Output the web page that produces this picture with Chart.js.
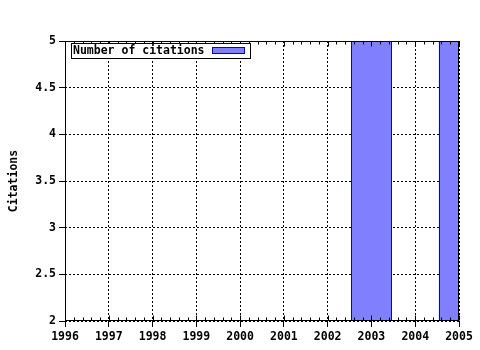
<!DOCTYPE html>
<html>
<head>
<meta charset="utf-8">
<script src="https://cdn.jsdelivr.net/npm/chart.js@4"></script>
<style>
  html, body { margin: 0; padding: 0; background: #fff; }
  #wrap { width: 480px; height: 350px; }
</style>
</head>
<body>
<div id="wrap"><canvas id="citationChart" width="480" height="350"></canvas></div>
<script>
// ---- data ----
var years = [2003, 2005];
var citations = [5, 5];
var seriesLabel = "Number of citations";
var yTitle = "Citations";
var xMin = 1996, xMax = 2005;
var yMin = 2, yMax = 5;

var FONT = "'DejaVu Sans Mono', 'Liberation Mono', monospace";
var BAR_FILL = "#8080ff";
var BAR_EDGE = "#0a0a9a";

/* crisp bar edges, frame, minor ticks and the boxed legend */
var framePlugin = {
    id: "frame",
    afterDatasetsDraw: function (chart) {
        var ctx = chart.ctx;
        var a = chart.chartArea;
        var xs = chart.scales.x;
        var l = Math.round(a.left) + 0.5, r = Math.round(a.right) - 0.5;
        var t = Math.round(a.top) + 0.5, b = Math.round(a.bottom) - 0.5;
        ctx.save();
        // bar side edges, taken from the bar elements
        ctx.beginPath();
        ctx.rect(a.left, a.top, a.right - a.left, a.bottom - a.top);
        ctx.clip();
        ctx.strokeStyle = BAR_EDGE;
        ctx.lineWidth = 1;
        ctx.beginPath();
        chart.getDatasetMeta(0).data.forEach(function (bar) {
            var p = bar.getProps(["x", "y", "base", "width"], true);
            var x0 = Math.round(p.x - p.width / 2) + 0.5;
            var x1 = Math.round(p.x + p.width / 2) - 0.5;
            var top = Math.min(p.y, p.base), bot = Math.max(p.y, p.base);
            ctx.moveTo(x0, top); ctx.lineTo(x0, bot);
            ctx.moveTo(x1, top); ctx.lineTo(x1, bot);
        });
        ctx.stroke();
        ctx.restore();

        ctx.save();
        ctx.strokeStyle = "#000";
        ctx.lineWidth = 1;
        ctx.setLineDash([]);
        ctx.strokeRect(l, t, r - l, b - t);
        // ticks on x, bottom and top
        ctx.beginPath();
        for (var i = 0; i <= (xMax - xMin) * 5; i++) {
            var v = xMin + i / 5;
            var px = Math.round(xs.getPixelForValue(v)) + 0.5;
            var len = (i % 5 === 0) ? 5 : 3;
            ctx.moveTo(px, b); ctx.lineTo(px, b - len);
            ctx.moveTo(px, t); ctx.lineTo(px, t + len);
        }
        ctx.stroke();
        // legend box
        ctx.font = "bold 11.5px " + FONT;
        ctx.textBaseline = "middle";
        ctx.textAlign = "left";
        var bx = l + 6, by = t + 2;
        var tw = ctx.measureText(seriesLabel).width;
        var bw = Math.round(tw + 47), bh = 15;
        ctx.fillStyle = "#fff";
        ctx.fillRect(bx, by, bw, bh);
        ctx.strokeRect(bx, by, bw, bh);
        ctx.fillStyle = "#000";
        ctx.fillText(seriesLabel, bx + 1.5, by + bh / 2 + 0.5);
        var sx = bx + bw - 38;
        ctx.fillStyle = BAR_FILL;
        ctx.fillRect(sx, by + 4, 32, 6);
        ctx.strokeStyle = BAR_EDGE;
        ctx.strokeRect(sx, by + 4, 32, 6);
        ctx.restore();
    }
};

new Chart(document.getElementById("citationChart"), {
    type: "bar",
    data: {
        datasets: [{
            label: seriesLabel,
            data: years.map(function (y, i) { return { x: y, y: citations[i] }; }),
            backgroundColor: BAR_FILL,
            borderWidth: 0,
            barPercentage: 0.92,
            categoryPercentage: 1.0
        }]
    },
    options: {
        responsive: false,
        animation: false,
        layout: { padding: { top: 41, right: 21, left: 0, bottom: 0 } },
        plugins: {
            legend: { display: false },
            tooltip: { enabled: false }
        },
        scales: {
            x: {
                type: "linear",
                min: xMin,
                max: xMax,
                offset: false,
                border: { display: false, dash: [2, 2] },
                grid: {
                    offset: false,
                    color: "#000",
                    tickBorderDash: [],
                    tickLength: 6,
                    tickColor: "#000"
                },
                ticks: {
                    stepSize: 1,
                    color: "#000",
                    padding: 3,
                    maxRotation: 0,
                    font: { family: FONT, size: 11.5, weight: "bold" },
                    callback: function (v) { return String(v); }
                },
                afterFit: function (s) { s.height = 29; }
            },
            y: {
                min: yMin,
                max: yMax,
                border: { display: false, dash: [2, 2] },
                grid: {
                    color: "#000",
                    tickBorderDash: [],
                    tickLength: 6,
                    tickColor: "#000"
                },
                ticks: {
                    stepSize: 0.5,
                    color: "#000",
                    padding: 3,
                    font: { family: FONT, size: 11.5, weight: "bold" },
                    callback: function (v) { return String(v); }
                },
                title: {
                    display: true,
                    text: yTitle,
                    color: "#000",
                    padding: { top: 7, bottom: 0 },
                    font: { family: FONT, size: 11.5, weight: "bold" }
                },
                afterFit: function (s) { s.width = 65; }
            }
        }
    },
    plugins: [framePlugin]
});
</script>
</body>
</html>
